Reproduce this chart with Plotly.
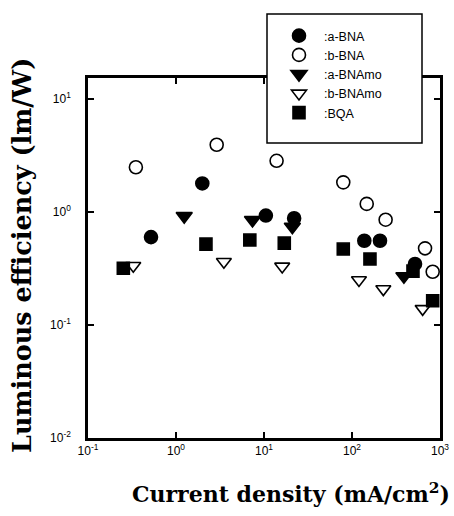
import plotly.graph_objects as go

# ---- data ----
a_bna_x = [0.52, 1.99, 10.5, 22, 138, 208, 520]
a_bna_y = [0.60, 1.79, 0.93, 0.88, 0.557, 0.557, 0.347]

b_bna_x = [0.35, 2.9, 13.9, 79.6, 147, 241, 676, 826]
b_bna_y = [2.49, 3.94, 2.84, 1.83, 1.18, 0.855, 0.477, 0.296]

a_bnamo_x = [1.24, 7.4, 21, 389]
a_bnamo_y = [0.92, 0.85, 0.74, 0.27]

b_bnamo_x = [0.327, 3.5, 16.1, 120, 227, 635]
b_bnamo_y = [0.335, 0.363, 0.33, 0.25, 0.208, 0.139]

bqa_x = [0.252, 2.19, 6.9, 17, 79.6, 160, 493, 826]
bqa_y = [0.318, 0.52, 0.565, 0.53, 0.47, 0.384, 0.30, 0.164]

x_tickvals = [0.1, 1, 10, 100, 1000]
x_ticktext = ["10<sup>-1</sup>", "10<sup>0</sup>", "10<sup>1</sup>", "10<sup>2</sup>", "10<sup>3</sup>"]
y_tickvals = [0.01, 0.1, 1, 10]
y_ticktext = ["10<sup>-2</sup>", "10<sup>-1</sup>", "10<sup>0</sup>", "10<sup>1</sup>"]

series = [
    (":a-BNA", a_bna_x, a_bna_y, "circle", 13),
    (":b-BNA", b_bna_x, b_bna_y, "circle-open", 13),
    (":a-BNAmo", a_bnamo_x, a_bnamo_y, "triangle-down", 14),
    (":b-BNAmo", b_bnamo_x, b_bnamo_y, "triangle-down-open", 13),
    (":BQA", bqa_x, bqa_y, "square", 12),
]

fig = go.Figure()
for i, (name, xs, ys, sym, sz) in enumerate(series):
    fig.add_trace(go.Scatter(
        x=xs, y=ys, mode="markers", name=name, legendgroup=str(i),
        marker=dict(symbol=sym, size=sz, color="black",
                    line=dict(color="black", width=1.6)),
    ))

W, H = 454, 516
# page-pixel layout: plot box x 88..440, y 78..438; paper top at y 10
L, R, PT, B = 88, 440, 10, 438
PLOT_TOP = 78

def px_x(p):  # page pixel -> paper x
    return (p - L) / (R - L)

def px_y(p):  # page pixel -> paper y
    return (B - p) / (B - PT)

axis_common = dict(
    type="log", showline=True, linecolor="black", linewidth=2.5, mirror="ticks",
    ticks="inside", ticklen=6, tickwidth=2, tickcolor="black",
    showgrid=False, zeroline=False, automargin=False, ticklabeloverflow="allow",
    tickfont=dict(family="Arial, Liberation Sans, sans-serif", size=12, color="black"),
)

fig.update_xaxes(range=[-1, 3], tickvals=x_tickvals, ticktext=x_ticktext, **axis_common)
fig.update_yaxes(range=[-2, 1.186], tickvals=y_tickvals, ticktext=y_ticktext,
                 domain=[0, (B - PLOT_TOP) / (B - PT)], ticklabelstandoff=12, **axis_common)

fig.update_layout(
    width=W, height=H,
    margin=dict(l=L, r=W - R, t=PT, b=H - B, autoexpand=False),
    plot_bgcolor="white", paper_bgcolor="white",
    showlegend=True,
    legend=dict(
        x=px_x(274), y=px_y(21), xanchor="left", yanchor="top",
        bgcolor="rgba(0,0,0,0)", borderwidth=0,
        font=dict(family="Arial, Liberation Sans, sans-serif", size=12.5, color="black"),
        tracegroupgap=0, itemwidth=40,
    ),
    shapes=[
        dict(type="rect", xref="paper", yref="paper", layer="above",
             x0=px_x(267), x1=px_x(422), y0=px_y(143), y1=px_y(14),
             fillcolor="white", line=dict(color="black", width=1.5)),
    ],
    annotations=[
        dict(text="Current density (mA/cm<sup>2</sup>)", xref="paper", yref="paper",
             x=px_x(291), y=px_y(493), xanchor="center", yanchor="middle", showarrow=False,
             font=dict(family="DejaVu Serif", size=22, color="black", weight="bold")),
        dict(text="Luminous efficiency (lm/W)", xref="paper", yref="paper",
             x=px_x(22), y=px_y(256), xanchor="center", yanchor="middle", showarrow=False,
             textangle=-90,
             font=dict(family="DejaVu Serif", size=25.5, color="black", weight="bold")),
    ],
)

fig.write_html(
    "out.html",
    config={"displayModeBar": False},
    post_script="document.body.style.margin='0';document.body.style.overflow='hidden';",
)
